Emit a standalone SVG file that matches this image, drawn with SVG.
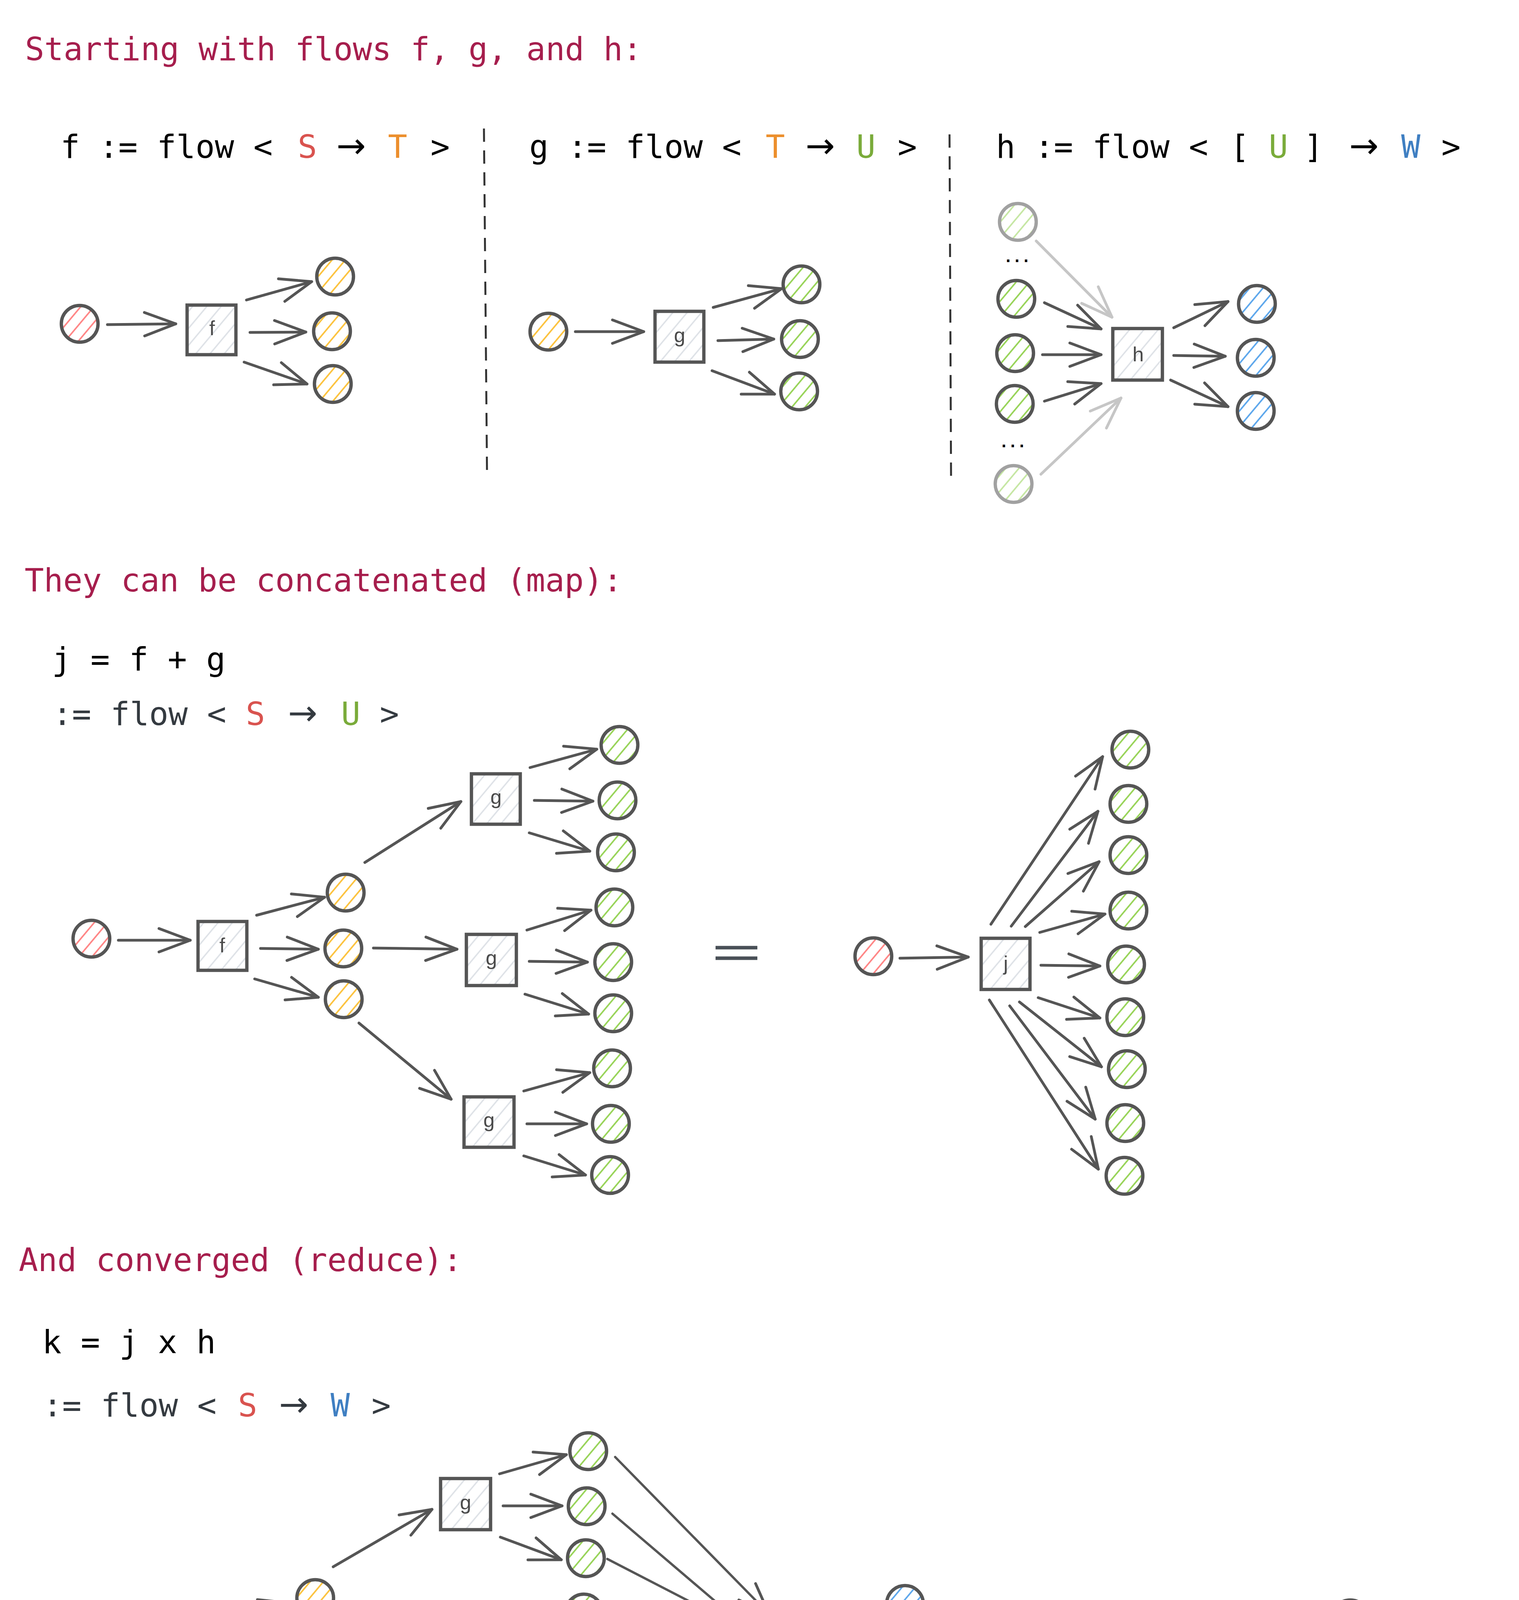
<svg xmlns="http://www.w3.org/2000/svg" width="3889" height="4956" viewBox="0 0 3889 4956">
<defs>
<style>
.code{font-family:'DejaVu Sans Mono','Liberation Mono',monospace;font-size:82px;fill:#000}
.code2{font-family:'DejaVu Sans Mono','Liberation Mono',monospace;font-size:82px;fill:#343a40}
.arw{font-family:'DejaVu Sans','Liberation Sans',sans-serif;font-size:90px;text-anchor:middle}
.ttl{font-family:'DejaVu Sans Mono','Liberation Mono',monospace;font-size:82px;fill:#a61e4d}
.m{text-anchor:middle}
.dots{font-family:'DejaVu Sans Mono','Liberation Mono',monospace;font-size:38px;font-weight:bold;fill:#000;text-anchor:middle}
.S{fill:#d9534f}.T{fill:#ec8f2d}.U{fill:#7aab3a}.W{fill:#3f7fc2}
.lbl{font-family:'Liberation Sans','DejaVu Sans',sans-serif;font-size:52px;fill:#4a4a4a;text-anchor:middle}
.nd{stroke:#555;stroke-width:8.5}
.r{fill:url(#hR)}.y{fill:url(#hY)}.g{fill:url(#hG)}.b{fill:url(#hB)}
.box{fill:url(#hX);stroke:#555;stroke-width:8.5}
.fade{opacity:0.55}
.a{fill:none;stroke:#555;stroke-width:7;stroke-linecap:round;marker-end:url(#ah)}
.af{fill:none;stroke:#c6c6c6;stroke-width:7;stroke-linecap:round;marker-end:url(#ahf)}
.al{fill:none;stroke:#555;stroke-width:6;stroke-linecap:round;marker-end:url(#ah)}
.dash{stroke:#333;stroke-width:5;stroke-dasharray:34 22;fill:none}
.eq{stroke:#495057;stroke-width:9;stroke-linecap:butt}
</style>
<pattern id="hR" patternUnits="userSpaceOnUse" width="26" height="26" patternTransform="rotate(-50)"><line x1="0" y1="13" x2="26" y2="13" stroke="#ff8787" stroke-width="4"/></pattern>
<pattern id="hY" patternUnits="userSpaceOnUse" width="26" height="26" patternTransform="rotate(-50)"><line x1="0" y1="13" x2="26" y2="13" stroke="#fcc340" stroke-width="4"/></pattern>
<pattern id="hG" patternUnits="userSpaceOnUse" width="26" height="26" patternTransform="rotate(-50)"><line x1="0" y1="13" x2="26" y2="13" stroke="#99d45a" stroke-width="4"/></pattern>
<pattern id="hB" patternUnits="userSpaceOnUse" width="26" height="26" patternTransform="rotate(-50)"><line x1="0" y1="13" x2="26" y2="13" stroke="#5fa8ec" stroke-width="4"/></pattern>
<pattern id="hX" patternUnits="userSpaceOnUse" width="28" height="28" patternTransform="rotate(-50)"><line x1="0" y1="14" x2="28" y2="14" stroke="#dde1e6" stroke-width="3.5"/></pattern>
<marker id="ah" markerUnits="userSpaceOnUse" viewBox="-100 -50 110 100" markerWidth="110" markerHeight="100" refX="0" refY="0" orient="auto"><path d="M-80,-30 L0,0 L-80,30" fill="none" stroke="#555" stroke-width="7" stroke-linecap="round" stroke-linejoin="round"/></marker>
<marker id="ahf" markerUnits="userSpaceOnUse" viewBox="-100 -50 110 100" markerWidth="110" markerHeight="100" refX="0" refY="0" orient="auto"><path d="M-80,-30 L0,0 L-80,30" fill="none" stroke="#c6c6c6" stroke-width="7" stroke-linecap="round" stroke-linejoin="round"/></marker>
</defs>
<rect x="0" y="0" width="3889" height="4956" fill="#ffffff"/>

<g id="texts">
<text class="ttl" x="64" y="154">Starting with flows f, g, and h:</text>
<text class="code" x="155" y="404">f := flow &lt;</text>
<text class="code m S" x="787" y="404">S</text>
<text class="arw" x="899" y="404">→</text>
<text class="code m T" x="1018" y="404">T</text>
<text class="code m" x="1127" y="404">&gt;</text>
<text class="code" x="1355" y="404">g := flow &lt;</text>
<text class="code m T" x="1985" y="404">T</text>
<text class="arw" x="2100" y="404">→</text>
<text class="code m U" x="2217" y="404">U</text>
<text class="code m" x="2323" y="404">&gt;</text>
<text class="code" x="2550" y="404">h := flow &lt;</text>
<text class="code m" x="3174" y="404">[</text>
<text class="code m U" x="3273" y="404">U</text>
<text class="code m" x="3363" y="404">]</text>
<text class="arw" x="3492" y="404">→</text>
<text class="code m W" x="3612" y="404">W</text>
<text class="code m" x="3715" y="404">&gt;</text>
<text class="dots" x="2604" y="671">...</text>
<text class="dots" x="2593" y="1145">...</text>

<text class="ttl" x="63" y="1514">They can be concatenated (map):</text>
<text class="code" x="133" y="1716">j = f + g</text>
<text class="code2" x="135" y="1856">:= flow &lt;</text>
<text class="code m S" x="654" y="1856">S</text>
<text class="arw" x="775" y="1856" fill="#343a40">→</text>
<text class="code m U" x="898" y="1856">U</text>
<text class="code2 m" x="997" y="1856">&gt;</text>

<text class="ttl" x="48" y="3254">And converged (reduce):</text>
<text class="code" x="108" y="3464">k = j x h</text>
<text class="code2" x="110" y="3626">:= flow &lt;</text>
<text class="code m S" x="634" y="3626">S</text>
<text class="arw" x="752" y="3626" fill="#343a40">→</text>
<text class="code m W" x="871" y="3626">W</text>
<text class="code2 m" x="976" y="3626">&gt;</text>
</g>

<g id="separators">
<line class="dash" x1="1239" y1="329" x2="1247" y2="1225"/>
<line class="dash" x1="2431" y1="344" x2="2435" y2="1239"/>
<line class="eq" x1="1832" y1="2426" x2="1939" y2="2426"/>
<line class="eq" x1="1832" y1="2453" x2="1939" y2="2453"/>
<line class="eq" x1="2519" y1="4256" x2="2627" y2="4256"/>
<line class="eq" x1="2519" y1="4284" x2="2627" y2="4284"/>
</g>

<g id="connectors">
<line class="a" x1="275" y1="831" x2="450" y2="829"/>
<line class="a" x1="631" y1="768" x2="798" y2="721"/>
<line class="a" x1="640" y1="851" x2="783" y2="850"/>
<line class="a" x1="625" y1="927" x2="786" y2="983"/>
<line class="a" x1="1473" y1="849" x2="1648" y2="849"/>
<line class="a" x1="1826" y1="787" x2="2001" y2="739"/>
<line class="a" x1="1838" y1="872" x2="1981" y2="868"/>
<line class="a" x1="1823" y1="949" x2="1983" y2="1009"/>
<line class="af" x1="2653" y1="617" x2="2847" y2="812"/>
<line class="a" x1="2674" y1="775" x2="2819" y2="842"/>
<line class="a" x1="2669" y1="908" x2="2819" y2="908"/>
<line class="a" x1="2674" y1="1027" x2="2819" y2="982"/>
<line class="af" x1="2665" y1="1214" x2="2870" y2="1019"/>
<line class="a" x1="3005" y1="839" x2="3144" y2="772"/>
<line class="a" x1="3005" y1="910" x2="3137" y2="912"/>
<line class="a" x1="2997" y1="973" x2="3144" y2="1041"/>
<line class="a" x1="303" y1="2407" x2="487" y2="2407"/>
<line class="a" x1="657" y1="2343" x2="831" y2="2297"/>
<line class="a" x1="667" y1="2428" x2="815" y2="2430"/>
<line class="a" x1="652" y1="2506" x2="815" y2="2553"/>
<line class="a" x1="934" y1="2208" x2="1180" y2="2052"/>
<line class="a" x1="956" y1="2427" x2="1170" y2="2430"/>
<line class="a" x1="919" y1="2619" x2="1155" y2="2814"/>
<line class="a" x1="1357" y1="1965" x2="1528" y2="1918"/>
<line class="a" x1="1368" y1="2049" x2="1518" y2="2051"/>
<line class="a" x1="1355" y1="2132" x2="1510" y2="2179"/>
<line class="a" x1="1349" y1="2381" x2="1513" y2="2330"/>
<line class="a" x1="1355" y1="2461" x2="1504" y2="2463"/>
<line class="a" x1="1344" y1="2545" x2="1507" y2="2596"/>
<line class="a" x1="1341" y1="2793" x2="1510" y2="2746"/>
<line class="a" x1="1349" y1="2877" x2="1502" y2="2877"/>
<line class="a" x1="1341" y1="2959" x2="1499" y2="3008"/>
<line class="a" x1="2304" y1="2453" x2="2479" y2="2450"/>
<line class="a" x1="2537" y1="2366" x2="2823" y2="1937"/>
<line class="a" x1="2589" y1="2371" x2="2811" y2="2077"/>
<line class="a" x1="2625" y1="2372" x2="2814" y2="2206"/>
<line class="a" x1="2662" y1="2387" x2="2829" y2="2340"/>
<line class="a" x1="2665" y1="2471" x2="2816" y2="2473"/>
<line class="a" x1="2658" y1="2554" x2="2816" y2="2606"/>
<line class="a" x1="2610" y1="2565" x2="2820" y2="2731"/>
<line class="a" x1="2585" y1="2575" x2="2804" y2="2865"/>
<line class="a" x1="2533" y1="2560" x2="2812" y2="2993"/>
<line class="a" x1="227" y1="4216" x2="409" y2="4211"/>
<line class="a" x1="578" y1="4147" x2="744" y2="4104"/>
<line class="a" x1="589" y1="4235" x2="738" y2="4237"/>
<line class="a" x1="572" y1="4311" x2="725" y2="4371"/>
<line class="a" x1="853" y1="4011" x2="1106" y2="3864"/>
<line class="a" x1="874" y1="4237" x2="1093" y2="4240"/>
<line class="a" x1="839" y1="4425" x2="1076" y2="4619"/>
<line class="a" x1="1279" y1="3773" x2="1450" y2="3724"/>
<line class="a" x1="1288" y1="3855" x2="1439" y2="3855"/>
<line class="a" x1="1281" y1="3935" x2="1437" y2="3993"/>
<line class="a" x1="1267" y1="4188" x2="1437" y2="4142"/>
<line class="a" x1="1279" y1="4273" x2="1422" y2="4267"/>
<line class="a" x1="1270" y1="4349" x2="1428" y2="4411"/>
<line class="a" x1="1261" y1="4600" x2="1433" y2="4553"/>
<line class="a" x1="1273" y1="4685" x2="1415" y2="4681"/>
<line class="a" x1="1264" y1="4761" x2="1422" y2="4818"/>
<line class="al" x1="1575" y1="3730" x2="1969" y2="4132"/>
<line class="al" x1="1568" y1="3875" x2="1927" y2="4181"/>
<line class="al" x1="1555" y1="3991" x2="1927" y2="4183"/>
<line class="al" x1="1552" y1="4132" x2="1927" y2="4210"/>
<line class="al" x1="1552" y1="4270" x2="1927" y2="4236"/>
<line class="al" x1="1550" y1="4390" x2="1927" y2="4248"/>
<line class="al" x1="1553" y1="4520" x2="1931" y2="4292"/>
<line class="al" x1="1546" y1="4652" x2="1950" y2="4323"/>
<line class="al" x1="1542" y1="4782" x2="1960" y2="4338"/>
<line class="a" x1="2105" y1="4164" x2="2248" y2="4100"/>
<line class="a" x1="2110" y1="4241" x2="2234" y2="4237"/>
<line class="a" x1="2098" y1="4305" x2="2240" y2="4371"/>
<line class="a" x1="2873" y1="4267" x2="3056" y2="4266"/>
<line class="a" x1="3229" y1="4202" x2="3404" y2="4152"/>
<line class="a" x1="3237" y1="4287" x2="3391" y2="4289"/>
<line class="a" x1="3227" y1="4366" x2="3384" y2="4415"/>
</g>

<g id="s1-src-S"><circle class="nd r" cx="204" cy="829" r="47"/></g>
<g id="s1-box-f"><rect class="box" x="479" y="781" width="125" height="127"/><text class="lbl" x="543" y="858">f</text></g>
<g id="s1-T1"><circle class="nd y" cx="858" cy="708" r="47"/></g>
<g id="s1-T2"><circle class="nd y" cx="850" cy="848" r="47"/></g>
<g id="s1-T3"><circle class="nd y" cx="852" cy="983" r="47"/></g>
<g id="s1-src-T"><circle class="nd y" cx="1404" cy="849" r="47"/></g>
<g id="s1-box-g"><rect class="box" x="1677" y="797" width="125" height="130"/><text class="lbl" x="1740" y="876">g</text></g>
<g id="s1-U1"><circle class="nd g" cx="2052" cy="728" r="47"/></g>
<g id="s1-U2"><circle class="nd g" cx="2048" cy="868" r="47"/></g>
<g id="s1-U3"><circle class="nd g" cx="2046" cy="1002" r="47"/></g>
<g id="s1-hU0" class="fade"><circle class="nd g" cx="2606" cy="568" r="47"/></g>
<g id="s1-hU1"><circle class="nd g" cx="2602" cy="765" r="47"/></g>
<g id="s1-hU2"><circle class="nd g" cx="2599" cy="904" r="47"/></g>
<g id="s1-hU3"><circle class="nd g" cx="2598" cy="1034" r="47"/></g>
<g id="s1-hU4" class="fade"><circle class="nd g" cx="2595" cy="1239" r="47"/></g>
<g id="s1-box-h"><rect class="box" x="2849" y="841" width="127" height="132"/><text class="lbl" x="2914" y="925">h</text></g>
<g id="s1-W1"><circle class="nd b" cx="3218" cy="778" r="47"/></g>
<g id="s1-W2"><circle class="nd b" cx="3215" cy="916" r="47"/></g>
<g id="s1-W3"><circle class="nd b" cx="3215" cy="1052" r="47"/></g>

<g id="s2-src-S"><circle class="nd r" cx="234" cy="2403" r="47"/></g>
<g id="s2-box-f"><rect class="box" x="507" y="2359" width="125" height="125"/><text class="lbl" x="569" y="2438">f</text></g>
<g id="s2-T1"><circle class="nd y" cx="885" cy="2285" r="47"/></g>
<g id="s2-T2"><circle class="nd y" cx="879" cy="2428" r="47"/></g>
<g id="s2-T3"><circle class="nd y" cx="880" cy="2558" r="47"/></g>
<g id="s2-box-g1"><rect class="box" x="1207" y="1981" width="125" height="129"/><text class="lbl" x="1270" y="2058">g</text></g>
<g id="s2-box-g2"><rect class="box" x="1194" y="2392" width="128" height="131"/><text class="lbl" x="1258" y="2470">g</text></g>
<g id="s2-box-g3"><rect class="box" x="1188" y="2808" width="128" height="129"/><text class="lbl" x="1252" y="2885">g</text></g>
<g id="s2-U1"><circle class="nd g" cx="1586" cy="1907" r="47"/></g>
<g id="s2-U2"><circle class="nd g" cx="1581" cy="2049" r="47"/></g>
<g id="s2-U3"><circle class="nd g" cx="1577" cy="2182" r="47"/></g>
<g id="s2-U4"><circle class="nd g" cx="1573" cy="2323" r="47"/></g>
<g id="s2-U5"><circle class="nd g" cx="1570" cy="2463" r="47"/></g>
<g id="s2-U6"><circle class="nd g" cx="1570" cy="2594" r="47"/></g>
<g id="s2-U7"><circle class="nd g" cx="1567" cy="2735" r="47"/></g>
<g id="s2-U8"><circle class="nd g" cx="1564" cy="2877" r="47"/></g>
<g id="s2-U9"><circle class="nd g" cx="1562" cy="3008" r="47"/></g>
<g id="s2-src-S2"><circle class="nd r" cx="2236" cy="2448" r="47"/></g>
<g id="s2-box-j"><rect class="box" x="2512" y="2402" width="125" height="131"/><text class="lbl" x="2575" y="2484">j</text></g>
<g id="s2-jU1"><circle class="nd g" cx="2894" cy="1919" r="47"/></g>
<g id="s2-jU2"><circle class="nd g" cx="2889" cy="2058" r="47"/></g>
<g id="s2-jU3"><circle class="nd g" cx="2889" cy="2189" r="47"/></g>
<g id="s2-jU4"><circle class="nd g" cx="2889" cy="2331" r="47"/></g>
<g id="s2-jU5"><circle class="nd g" cx="2883" cy="2469" r="47"/></g>
<g id="s2-jU6"><circle class="nd g" cx="2881" cy="2604" r="47"/></g>
<g id="s2-jU7"><circle class="nd g" cx="2885" cy="2737" r="47"/></g>
<g id="s2-jU8"><circle class="nd g" cx="2881" cy="2875" r="47"/></g>
<g id="s2-jU9"><circle class="nd g" cx="2879" cy="3010" r="47"/></g>

<g id="s3-src-S"><circle class="nd r" cx="156" cy="4211" r="47"/></g>
<g id="s3-box-f"><rect class="box" x="431" y="4164" width="125" height="131"/><text class="lbl" x="493" y="4246">f</text></g>
<g id="s3-T1"><circle class="nd y" cx="807" cy="4091" r="47"/></g>
<g id="s3-T2"><circle class="nd y" cx="804" cy="4232" r="47"/></g>
<g id="s3-T3"><circle class="nd y" cx="801" cy="4363" r="47"/></g>
<g id="s3-box-g1"><rect class="box" x="1128" y="3785" width="128" height="131"/><text class="lbl" x="1192" y="3864">g</text></g>
<g id="s3-box-g2"><rect class="box" x="1117" y="4200" width="128" height="130"/><text class="lbl" x="1181" y="4278">g</text></g>
<g id="s3-box-g3"><rect class="box" x="1112" y="4614" width="128" height="131"/><text class="lbl" x="1176" y="4693">g</text></g>
<g id="s3-U1"><circle class="nd g" cx="1506" cy="3715" r="47"/></g>
<g id="s3-U2"><circle class="nd g" cx="1502" cy="3856" r="47"/></g>
<g id="s3-U3"><circle class="nd g" cx="1500" cy="3989" r="47"/></g>
<g id="s3-U4"><circle class="nd g" cx="1495" cy="4128" r="47"/></g>
<g id="s3-U5"><circle class="nd g" cx="1491" cy="4269" r="47"/></g>
<g id="s3-U6"><circle class="nd g" cx="1491" cy="4404" r="47"/></g>
<g id="s3-U7"><circle class="nd g" cx="1490" cy="4542" r="47"/></g>
<g id="s3-U8"><circle class="nd g" cx="1486" cy="4681" r="47"/></g>
<g id="s3-U9"><circle class="nd g" cx="1482" cy="4814" r="47"/></g>
<g id="s3-box-h"><rect class="box" x="1948" y="4171" width="127" height="129"/><text class="lbl" x="2012" y="4254">h</text></g>
<g id="s3-W1"><circle class="nd b" cx="2317" cy="4106" r="47"/></g>
<g id="s3-W2"><circle class="nd b" cx="2311" cy="4246" r="47"/></g>
<g id="s3-W3"><circle class="nd b" cx="2311" cy="4379" r="47"/></g>
<g id="s3-src-S2"><circle class="nd r" cx="2808" cy="4261" r="47"/></g>
<g id="s3-box-k"><rect class="box" x="3079" y="4214" width="126" height="129"/><text class="lbl" x="3140" y="4295">k</text></g>
<g id="s3-kW1"><circle class="nd b" cx="3457" cy="4143" r="47"/></g>
<g id="s3-kW2"><circle class="nd b" cx="3454" cy="4285" r="47"/></g>
<g id="s3-kW3"><circle class="nd b" cx="3454" cy="4415" r="47"/></g>
</svg>
